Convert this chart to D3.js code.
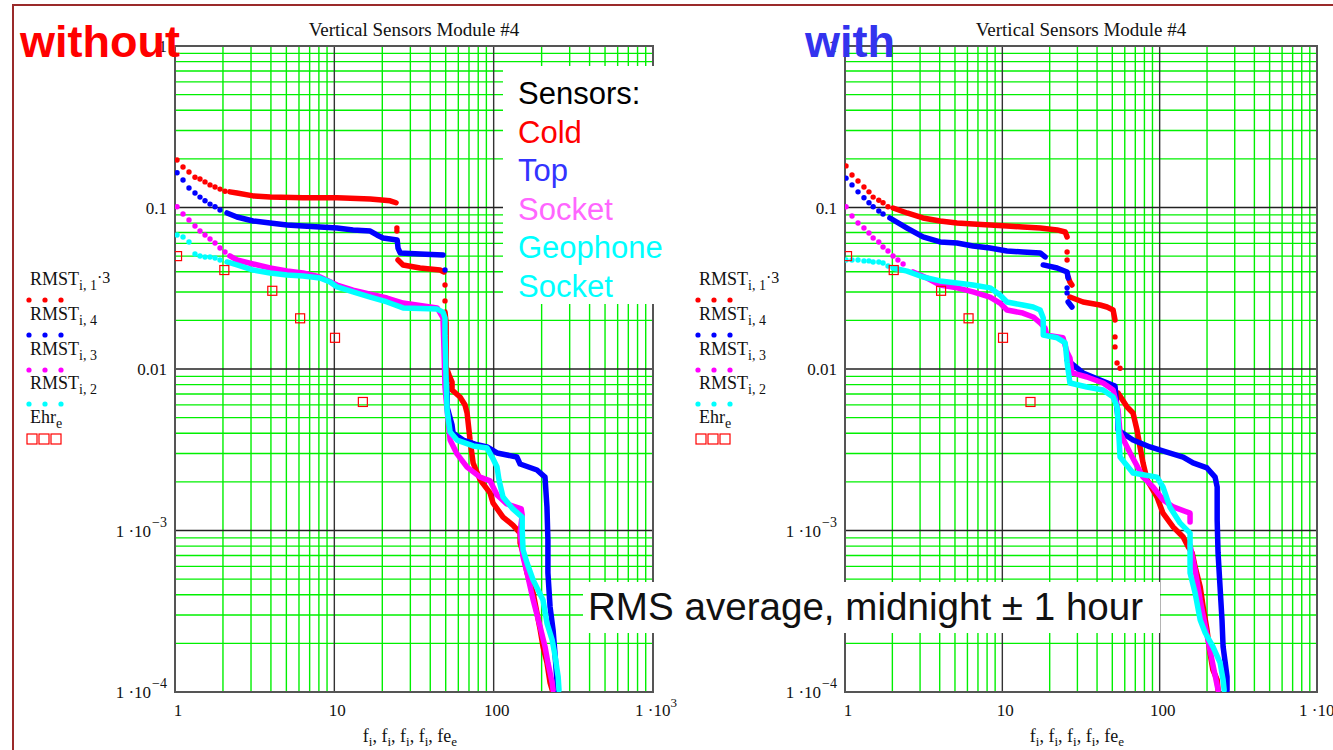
<!DOCTYPE html>
<html lang="en">
<head>
<meta charset="utf-8">
<title>Vertical Sensors Module #4</title>
<script src="https://d3js.org/d3.v7.min.js"></script>
<style>
  body { margin: 0; background: #fff; }
  svg { display: block; }
</style>
</head>
<body>
<script>
// values, points are [frequency, rms]
const xTicks = [1, 10, 100, 1000];
const xTickText = ["1", "10", "100", "1 ·10"];
const xTickExp = ["", "", "", "3"];
const yTicks = [1, 0.1, 0.01, 0.001, 0.0001];
const yTickText = ["1", "0.1", "0.01", "1 ·10", "1 ·10"];
const yTickExp = ["", "", "", "−3", "−4"];

const sensorNames = ["Sensors:", "Cold", "Top", "Socket", "Geophone", "Socket"];
const sensorColors = ["#000", "#ff0000", "#3333ff", "#ff66ff", "#00ffff", "#00ffff"];
const legendMain = ["RMST", "RMST", "RMST", "RMST", "Ehr"];
const legendSub = ["i, 1", "i, 4", "i, 3", "i, 2", "e"];
const legendTail = ["·3", "", "", "", ""];
const seriesColors = ["#ff0000", "#0000ff", "#ff00ff", "#00ffff"];

const ehr = [[1.03, 0.05], [2.04, 0.041], [4.08, 0.0305], [6.1, 0.0206], [10.1, 0.0156], [15.1, 0.00625]];

// ---- without ----
const woColdDots = [[1.03, 0.197], [1.123, 0.178], [1.224, 0.166], [1.335, 0.154], [1.435, 0.150], [1.543, 0.144],
  [1.659, 0.138], [1.783, 0.134], [1.917, 0.130], [2.06, 0.126], [24.7, 0.0746], [24.7, 0.0715], [49.5, 0.0331], [49.5, 0.0264]];
const woColdRuns = [
  [[2.21, 0.125], [2.45, 0.123], [3.09, 0.118], [3.95, 0.116], [6.36, 0.115], [10.4, 0.115], [16.8, 0.113], [22.4, 0.110], [24.4, 0.107]],
  [[25.1, 0.0473], [27, 0.0441], [34.5, 0.0422], [46.1, 0.041], [48.8, 0.0399]],
  [[49.5, 0.0225], [50.3, 0.0193], [50.3, 0.0131], [50.3, 0.0103], [52.5, 0.00918], [54.8, 0.00831], [54.8, 0.00741], [61.5, 0.00671],
   [66.1, 0.00598], [68.1, 0.00534], [71.1, 0.00363], [74.3, 0.00262], [82.2, 0.00206], [94.9, 0.00171], [99.1, 0.00148],
   [114.5, 0.00121], [132, 0.00108], [146.5, 0.000964], [146.5, 0.000837], [153, 0.000726], [162, 0.000546], [177, 0.00041],
   [187, 0.000308], [196, 0.000242], [204, 0.000191], [216, 0.000152], [226, 0.000114], [233, 0.000103]]
];
const woTopDots = [[1.03, 0.164], [1.123, 0.148], [1.224, 0.132], [1.335, 0.123], [1.435, 0.116], [1.543, 0.110],
  [1.659, 0.105], [1.783, 0.101], [1.917, 0.0966], [49.5, 0.041], [49.5, 0.0141], [49.5, 0.0109]];
const woTopRuns = [
  [[2.12, 0.0925], [2.45, 0.0873], [3.09, 0.0825], [3.95, 0.0802], [5.05, 0.0779], [6.36, 0.0768], [8.13, 0.0757], [10.4, 0.0746],
   [13.1, 0.0726], [16.8, 0.0715], [18.5, 0.0676], [20.2, 0.0647], [24.8, 0.0629], [25.1, 0.0561], [25.9, 0.0523], [34.5, 0.0515], [48.1, 0.0508]],
  [[50.3, 0.00892], [51, 0.0069], [51, 0.00582], [54.8, 0.0045], [55.6, 0.00402], [64.3, 0.00363], [76.4, 0.00343], [90.9, 0.00329],
   [105, 0.00302], [140, 0.00285], [146.5, 0.00258], [187, 0.00237], [210, 0.00214], [216, 0.0014], [219, 0.000873], [219, 0.000546],
   [226, 0.000336], [236, 0.000242], [243, 0.000169], [250, 0.000114], [250, 0.000103]]
];
const woSocketDots = [[1.03, 0.101], [1.123, 0.0912], [1.224, 0.0837], [1.335, 0.0768], [1.435, 0.0715], [1.543, 0.0676],
  [1.659, 0.0638], [1.783, 0.0603], [1.917, 0.0561], [2.06, 0.053]];
const woSocketRuns = [
  [[2.21, 0.0501], [2.45, 0.0473], [3.09, 0.0447], [3.95, 0.0422], [5.05, 0.0404], [6.36, 0.0393], [8.13, 0.0371], [10.4, 0.0331],
   [13.1, 0.0308], [16.8, 0.0291], [21.4, 0.0275], [27, 0.0256], [44.2, 0.0239], [48.1, 0.0207], [48.8, 0.0131], [49.5, 0.00774],
   [51, 0.00557], [53.3, 0.00363], [58.9, 0.00298], [68.1, 0.00247], [82.2, 0.00214], [94.9, 0.00203], [105, 0.00166], [121, 0.00146],
   [149, 0.00136], [151, 0.00125], [146.5, 0.000964], [153, 0.000685], [162, 0.000546], [177, 0.000371], [196, 0.000252],
   [210, 0.000191], [219, 0.000152], [233, 0.000114], [236, 0.000103]]
];
const woGeoDots = [[1.03, 0.0676], [1.123, 0.0657], [1.224, 0.0612], [1.335, 0.0515], [1.435, 0.0501], [1.543, 0.0494],
  [1.659, 0.0494], [1.783, 0.0487], [1.917, 0.0473]];
const woGeoRuns = [
  [[2.12, 0.046], [2.45, 0.0441], [3.09, 0.041], [3.95, 0.0393], [5.05, 0.0382], [6.36, 0.0377], [8.13, 0.0366], [9.4, 0.0346],
   [10.4, 0.0322], [13.1, 0.030], [16.8, 0.0279], [21.4, 0.026], [27, 0.0239], [44.2, 0.0235], [48.1, 0.0225], [49.5, 0.0207],
   [49.5, 0.0162], [50.3, 0.00855], [51, 0.00557], [53.3, 0.00407], [58.9, 0.00363], [74.3, 0.00334], [90.9, 0.00324],
   [97.8, 0.00285], [105, 0.00247], [108, 0.00206], [114.5, 0.00161], [132, 0.00136], [151, 0.00121], [151, 0.00101],
   [153, 0.000757], [162, 0.000629], [177, 0.000493], [204, 0.000371], [216, 0.000267], [233, 0.00021], [243, 0.000167],
   [254, 0.000124], [257, 0.000103]]
];

// ---- with ----
const wColdDots = [[1.015, 0.181], [1.108, 0.159], [1.21, 0.146], [1.32, 0.134], [1.42, 0.125], [1.51, 0.116], [1.64, 0.111],
  [1.745, 0.107], [1.876, 0.101], [25.8, 0.053], [25.8, 0.0473], [52, 0.0158], [52, 0.0137], [53.6, 0.0109], [56, 0.0101]];
const wColdRuns = [
  [[2.02, 0.0993], [2.48, 0.0925], [3.13, 0.0861], [4.02, 0.0825], [5.15, 0.0802], [6.51, 0.079], [8.35, 0.0779], [10.7, 0.0768],
   [13.5, 0.0757], [17.4, 0.0746], [22.3, 0.0726], [25.1, 0.0705], [25.8, 0.0657]],
  [[26.2, 0.0371], [26.9, 0.0346], [27.7, 0.0331]],
  [[26.9, 0.0279], [32.6, 0.026], [41.8, 0.0249], [46.3, 0.0242], [50.6, 0.0232], [52, 0.0201]],
  [[54.4, 0.0071], [62.1, 0.00582], [67.7, 0.00534], [71.8, 0.00419], [75, 0.00329], [78.4, 0.00262], [83.2, 0.00206],
   [96.2, 0.00161], [105, 0.00128], [122, 0.00105], [141, 0.000912], [152, 0.000791], [161, 0.000726], [168, 0.000594],
   [181, 0.000447], [189, 0.000336], [200, 0.000242], [209, 0.000174], [218, 0.000137], [232, 0.000119], [235, 0.000103]]
];
const wTopDots = [[1.015, 0.152], [1.108, 0.138], [1.21, 0.125], [1.32, 0.115], [1.42, 0.107], [1.51, 0.101], [1.64, 0.0951],
  [1.745, 0.0912], [25.8, 0.0318], [25.8, 0.0296]];
const wTopRuns = [
  [[1.93, 0.0861], [2.48, 0.0746], [3.13, 0.0657], [4.02, 0.0612], [5.15, 0.0603], [6.51, 0.0578], [8.35, 0.0561], [10.7, 0.0538],
   [13.5, 0.053], [17.4, 0.0523], [18.7, 0.0494]],
  [[18.2, 0.0441], [22.3, 0.0422], [25.8, 0.0399], [26.2, 0.0366]],
  [[26.2, 0.026], [27.7, 0.0242]],
  [[25.8, 0.01137], [32.6, 0.00945], [41.8, 0.00855], [52, 0.00785], [54.4, 0.00483], [54.4, 0.00419], [67.7, 0.00363],
   [86.9, 0.00329], [111, 0.00306], [141, 0.00285], [163, 0.00262], [200, 0.00244], [225, 0.00214], [232, 0.00186], [232, 0.00116],
   [235, 0.000726], [242, 0.000447], [249, 0.000279], [253, 0.000191], [261, 0.000152], [268, 0.000124], [268, 0.000103]]
];
const wSocketDots = [[1.015, 0.101], [1.108, 0.0886], [1.21, 0.0802], [1.32, 0.0746], [1.42, 0.0695], [1.51, 0.0647],
  [1.64, 0.0612], [1.745, 0.0569], [1.876, 0.0538], [2.02, 0.0501], [2.17, 0.0473], [2.34, 0.0447]];
const wSocketRuns = [
  [[2.71, 0.0399], [3.32, 0.0366], [4.02, 0.0331], [5.15, 0.0318], [6.51, 0.030], [8.35, 0.0279], [9.67, 0.0256], [10.7, 0.0232],
   [13.5, 0.0222], [15.7, 0.021], [17.4, 0.0193], [18.7, 0.0179], [19.2, 0.0162], [24.3, 0.0156], [25.8, 0.0127], [26.9, 0.0117],
   [27.7, 0.00945], [34.5, 0.00892], [43.7, 0.00819], [50.6, 0.00741], [54.4, 0.00557], [56, 0.00402], [64.9, 0.00302],
   [78.4, 0.00214], [90.8, 0.00186], [105, 0.00155], [122, 0.0014], [156, 0.00128], [156, 0.00113]],
  [[156, 0.000813], [168, 0.000569], [181, 0.000371], [197, 0.000242], [212, 0.000169], [228, 0.000119], [235, 0.000103]]
];
const wGeoDots = [[1.015, 0.0473], [1.108, 0.0473], [1.21, 0.0473], [1.32, 0.0467], [1.42, 0.0467], [1.51, 0.046], [1.64, 0.046],
  [1.745, 0.0453], [1.876, 0.0434]];
const wGeoRuns = [
  [[2.02, 0.0422], [2.48, 0.0404], [3.13, 0.0371], [4.02, 0.0351], [5.15, 0.0341], [6.51, 0.0331], [8.35, 0.0318], [9.67, 0.0287],
   [10.7, 0.026], [13.5, 0.0249], [15.7, 0.0242], [17.4, 0.0232], [18.2, 0.0207], [18.2, 0.0162], [22.3, 0.0156], [25.1, 0.0145],
   [25.8, 0.011], [26.9, 0.00819], [34.5, 0.00774], [43.7, 0.00741], [50.6, 0.00671], [53.6, 0.00582], [54.4, 0.00483],
   [56, 0.00285], [67.7, 0.00227], [96.2, 0.00214], [105, 0.00186], [116, 0.0014], [135, 0.00111], [156, 0.000964],
   [156, 0.000873], [156, 0.000546], [168, 0.00041], [181, 0.000279], [195, 0.000232], [218, 0.000191], [242, 0.000152],
   [253, 0.000119], [257, 0.000103]]
];

const serif = "'Liberation Serif', 'DejaVu Serif', serif";
const sans = "'Liberation Sans', Arial, sans-serif";
const W = 1333, H = 750;
const plotTop = 46, plotBottom = 692;

const svg = d3.select("body").append("svg").attr("width", W).attr("height", H);

svg.append("rect")
  .attr("x", 13).attr("y", 5).attr("width", W).attr("height", H)
  .attr("fill", "none").attr("stroke", "#9a2a2a").attr("stroke-width", 2);

function drawPanel(p) {
  var x = d3.scaleLog().domain([1, 1000]).range([p.left, p.right]);
  var y = d3.scaleLog().domain([1e-4, 1]).range([plotBottom, plotTop]);
  var g = svg.append("g");
  var isDecade = function (v) { return Math.abs(Math.log10(v) - Math.round(Math.log10(v))) < 1e-9; };

  g.selectAll(".gx").data(x.ticks().filter(function (v) { return !isDecade(v); })).join("line")
    .attr("class", "gx")
    .attr("x1", x).attr("x2", x).attr("y1", plotTop).attr("y2", plotBottom)
    .attr("stroke", "#00f000").attr("stroke-width", 1.4);
  g.selectAll(".gy").data(y.ticks().filter(function (v) { return !isDecade(v); })).join("line")
    .attr("class", "gy")
    .attr("y1", y).attr("y2", y).attr("x1", p.left).attr("x2", p.right)
    .attr("stroke", "#00f000").attr("stroke-width", 1.4);
  g.selectAll(".dx").data(xTicks).join("line")
    .attr("class", "dx")
    .attr("x1", x).attr("x2", x).attr("y1", plotTop).attr("y2", plotBottom)
    .attr("stroke", "#333").attr("stroke-width", 1.4);
  g.selectAll(".dy").data(yTicks).join("line")
    .attr("class", "dy")
    .attr("y1", y).attr("y2", y).attr("x1", p.left).attr("x2", p.right)
    .attr("stroke", "#222").attr("stroke-width", 1.3);
  g.append("rect")
    .attr("x", p.left).attr("y", plotTop).attr("width", p.right - p.left).attr("height", plotBottom - plotTop)
    .attr("fill", "none").attr("stroke", "#555").attr("stroke-width", 2);

  var clipId = "clip" + p.left;
  svg.append("clipPath").attr("id", clipId).append("rect")
    .attr("x", p.left).attr("y", plotTop).attr("width", p.right - p.left).attr("height", plotBottom - plotTop);
  var data = g.append("g").attr("clip-path", "url(#" + clipId + ")");
  var line = d3.line().x(function (d) { return x(d[0]); }).y(function (d) { return y(d[1]); });

  p.series.forEach(function (s, i) {
    var c = seriesColors[i];
    data.selectAll(null).data(s.runs).join("path")
      .attr("d", line).attr("fill", "none").attr("stroke", c)
      .attr("stroke-width", 5.5).attr("stroke-linecap", "round").attr("stroke-linejoin", "round");
    data.selectAll(null).data(s.dots).join("circle")
      .attr("cx", function (d) { return x(d[0]); }).attr("cy", function (d) { return y(d[1]); })
      .attr("r", 2.7).attr("fill", c);
  });
  data.selectAll(null).data(ehr).join("rect")
    .attr("x", function (d) { return x(d[0]) - 4.5; }).attr("y", function (d) { return y(d[1]) - 4.5; })
    .attr("width", 9).attr("height", 9).attr("fill", "none").attr("stroke", "#ff0000").attr("stroke-width", 1.2);

  // tick labels
  yTicks.forEach(function (v, i) {
    var t = g.append("text").attr("x", p.left - 8).attr("y", y(v) + 6)
      .attr("text-anchor", "end").attr("font-family", serif).attr("font-size", 17).attr("fill", "#111");
    t.append("tspan").text(yTickText[i]);
    if (yTickExp[i]) t.append("tspan").attr("dx", 1).attr("dy", -10).attr("font-size", 14).text(yTickExp[i]);
  });
  xTicks.forEach(function (v, i) {
    var t = g.append("text").attr("x", x(v) + 3).attr("y", 716)
      .attr("text-anchor", "middle").attr("font-family", serif).attr("font-size", 17).attr("fill", "#111");
    t.append("tspan").text(xTickText[i]);
    if (xTickExp[i]) t.append("tspan").attr("dy", -9).attr("font-size", 13).text(xTickExp[i]);
  });

  var mid = (p.left + p.right) / 2;
  g.append("text").attr("x", mid).attr("y", 36).attr("text-anchor", "middle")
    .attr("font-family", serif).attr("font-size", 19).attr("fill", "#111")
    .text("Vertical Sensors Module #4");

  var xl = g.append("text").attr("x", mid - 4).attr("y", 742).attr("text-anchor", "middle")
    .attr("font-family", serif).attr("font-size", 18).attr("fill", "#111");
  ["i", "i", "i", "i"].forEach(function (sub) {
    xl.append("tspan").text("f");
    xl.append("tspan").attr("dy", 4).attr("font-size", 13).text(sub);
    xl.append("tspan").attr("dy", -4).text(", ");
  });
  xl.append("tspan").text("fe");
  xl.append("tspan").attr("dy", 4).attr("font-size", 13).text("e");

  // legend
  var ly = [285, 320, 355, 389, 423];
  legendMain.forEach(function (m, i) {
    var t = g.append("text").attr("x", p.legendX).attr("y", ly[i])
      .attr("font-family", serif).attr("font-size", 18).attr("fill", "#111");
    t.append("tspan").text(m);
    t.append("tspan").attr("dy", 5).attr("font-size", 14).text(legendSub[i]);
    if (legendTail[i]) t.append("tspan").attr("dy", -7).attr("font-size", 16).text(legendTail[i]);
    if (i < 4) {
      g.selectAll(null).data([0, 1, 2]).join("circle")
        .attr("cx", function (k) { return p.legendX - 1 + k * 16; }).attr("cy", ly[i] + 15)
        .attr("r", 2.6).attr("fill", seriesColors[i]);
    } else {
      g.selectAll(null).data([0, 1, 2]).join("rect")
        .attr("x", function (k) { return p.legendX - 3 + k * 12; }).attr("y", ly[i] + 11)
        .attr("width", 10).attr("height", 10)
        .attr("fill", "none").attr("stroke", "#ff0000").attr("stroke-width", 1.2);
    }
  });
}

drawPanel({
  left: 175, right: 653, legendX: 30,
  series: [
    { dots: woColdDots, runs: woColdRuns },
    { dots: woTopDots, runs: woTopRuns },
    { dots: woSocketDots, runs: woSocketRuns },
    { dots: woGeoDots, runs: woGeoRuns }
  ]
});
drawPanel({
  left: 845, right: 1317, legendX: 699,
  series: [
    { dots: wColdDots, runs: wColdRuns },
    { dots: wTopDots, runs: wTopRuns },
    { dots: wSocketDots, runs: wSocketRuns },
    { dots: wGeoDots, runs: wGeoRuns }
  ]
});

// overlays
svg.append("text").attr("x", 20).attr("y", 57)
  .attr("font-family", sans).attr("font-weight", "bold").attr("font-size", 45).attr("fill", "#ff0000")
  .text("without");
svg.append("text").attr("x", 805).attr("y", 57)
  .attr("font-family", sans).attr("font-weight", "bold").attr("font-size", 45).attr("fill", "#3333ee")
  .text("with");

svg.append("rect").attr("x", 503).attr("y", 66).attr("width", 172).attr("height", 238).attr("fill", "#fff");
sensorNames.forEach(function (n, i) {
  svg.append("text").attr("x", 518).attr("y", 104 + i * 38.5)
    .attr("font-family", sans).attr("font-size", 31).attr("fill", sensorColors[i]).text(n);
});

svg.append("rect").attr("x", 583).attr("y", 582).attr("width", 577).attr("height", 51).attr("fill", "#fff");
svg.append("text").attr("x", 588).attr("y", 620)
  .attr("font-family", sans).attr("font-size", 38.6).attr("fill", "#111")
  .text("RMS average, midnight ± 1 hour");
</script>
</body>
</html>
